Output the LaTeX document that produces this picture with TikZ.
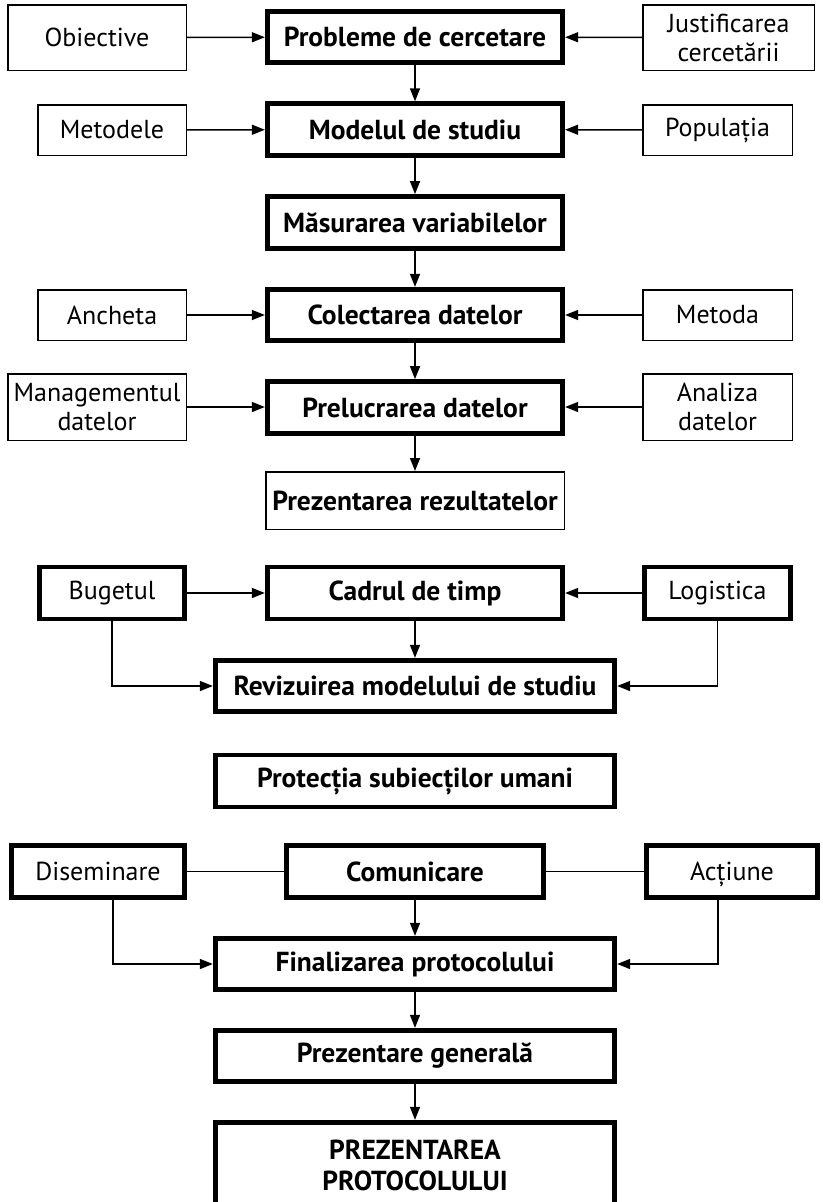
\documentclass[tikz,border=0pt]{standalone}
\usepackage{fontspec}
\setmainfont{PT Sans}
\usetikzlibrary{arrows.meta}
\begin{document}
\begin{tikzpicture}[x=1pt,y=-1pt,
  every node/.style={align=center,inner sep=0pt,font=\fontsize{26}{29}\selectfont},
  thinbox/.style={draw,line width=1.5pt},
  thickbox/.style={draw,line width=4.8pt,font=\fontsize{27.5}{31}\selectfont\bfseries},
  thickreg/.style={draw,line width=4.8pt,font=\fontsize{26}{29}\selectfont},
  thinbold/.style={draw,line width=1.5pt,font=\fontsize{27.5}{31}\selectfont\bfseries},
  arr/.style={line width=1.5pt,-{Triangle[length=13pt,width=10pt]}},
  ln/.style={line width=1.5pt}]
\clip (0,0) rectangle (822,1202);
\fill[white] (0,0) rectangle (822,1202);
% main column
\node[thickbox,minimum width=295.5pt,minimum height=51.5pt] (prob) at (415,37) {Probleme de cercetare};
\node[thickbox,minimum width=295.5pt,minimum height=51.5pt] (model) at (415,129.5) {Modelul de studiu};
\node[thickbox,minimum width=295.5pt,minimum height=52pt] (mas) at (415,222.5) {Măsurarea variabilelor};
\node[thickbox,minimum width=295.5pt,minimum height=51.5pt] (col) at (415,315) {Colectarea datelor};
\node[thickbox,minimum width=295.5pt,minimum height=52pt] (prel) at (415,407.5) {Prelucrarea datelor};
\node[thinbold,minimum width=298.5pt,minimum height=57.5pt] (prez) at (415,500.5) {Prezentarea rezultatelor};
% side boxes
\node[thinbox,minimum width=178.5pt,minimum height=65.5pt] (obi) at (97,37.5) {Obiective};
\node[thinbox,minimum width=171.5pt,minimum height=65.5pt] (just) at (728.5,37.5) {Justificarea\\cercetării};
\node[thinbox,minimum width=148.5pt,minimum height=50.5pt] (met) at (112,130) {Metodele};
\node[thinbox,minimum width=149.5pt,minimum height=50.5pt] (pop) at (717.5,130) {Populația};
\node[thinbox,minimum width=148.5pt,minimum height=50.5pt] (anc) at (112,315) {Ancheta};
\node[thinbox,minimum width=149.5pt,minimum height=50.5pt] (meta) at (717.5,315) {Metoda};
\node[thinbox,minimum width=178.5pt,minimum height=66.5pt] (man) at (97,407) {Managementul\\datelor};
\node[thinbox,minimum width=149.5pt,minimum height=66.5pt] (ana) at (717.5,407) {Analiza\\datelor};
% connectors top
\draw[arr] (obi) -- (prob);
\draw[arr] (just) -- (prob);
\draw[arr] (met) -- (model);
\draw[arr] (pop) -- (model);
\draw[arr] (anc) -- (col);
\draw[arr] (meta) -- (col);
\draw[arr] (man.east) -- (prel.west |- man.east);
\draw[arr] (ana.west) -- (prel.east |- ana.west);
\draw[arr] (prob) -- (model);
\draw[arr] (model) -- (mas);
\draw[arr] (mas) -- (col);
\draw[arr] (col) -- (prel);
\draw[arr] (prel) -- (prez);
% second group
\node[thickreg,minimum width=145.5pt,minimum height=52pt] (bug) at (112,593) {Bugetul};
\node[thickbox,minimum width=295.5pt,minimum height=52pt] (cad) at (415,593) {Cadrul de timp};
\node[thickreg,minimum width=146.5pt,minimum height=52pt] (log) at (717.5,593) {Logistica};
\node[thickbox,minimum width=399.5pt,minimum height=51.5pt] (rev) at (415,686) {Revizuirea modelului de studiu};
\draw[arr] (bug) -- (cad);
\draw[arr] (log) -- (cad);
\draw[arr] (cad) -- (rev);
\draw[arr] (bug.south) |- (rev.west);
\draw[arr] (log.south) |- (rev.east);
% protection
\node[thickbox,minimum width=399.5pt,minimum height=52pt] (prot) at (415,781) {Protecția subiecților umani};
% third group
\node[thickreg,minimum width=173.5pt,minimum height=52.5pt] (dis) at (98,871.5) {Diseminare};
\node[thickbox,minimum width=257.5pt,minimum height=52.5pt] (com) at (415,871.5) {Comunicare};
\node[thickreg,minimum width=171.5pt,minimum height=52.5pt] (act) at (732,871.5) {Ac\smash{ț}iune};
\node[thickbox,minimum width=399.5pt,minimum height=51.5pt] (fin) at (415,964) {Finalizarea protocolului};
\node[thickbox,minimum width=399.5pt,minimum height=51.5pt] (gen) at (415,1056) {Prezentare generală};
\node[thickbox,minimum width=399.5pt,minimum height=85.5pt] (final) at (415,1165) {PREZENTAREA\\PROTOCOLULUI};
\draw[ln] (dis) -- (com);
\draw[ln] (com) -- (act);
\draw[arr] (com) -- (fin);
\draw[arr] ([xshift=15pt]dis.south) |- (fin.west);
\draw[arr] ([xshift=-14pt]act.south) |- (fin.east);
\draw[arr] (fin) -- (gen);
\draw[arr] (gen) -- (final);
\end{tikzpicture}
\end{document}
